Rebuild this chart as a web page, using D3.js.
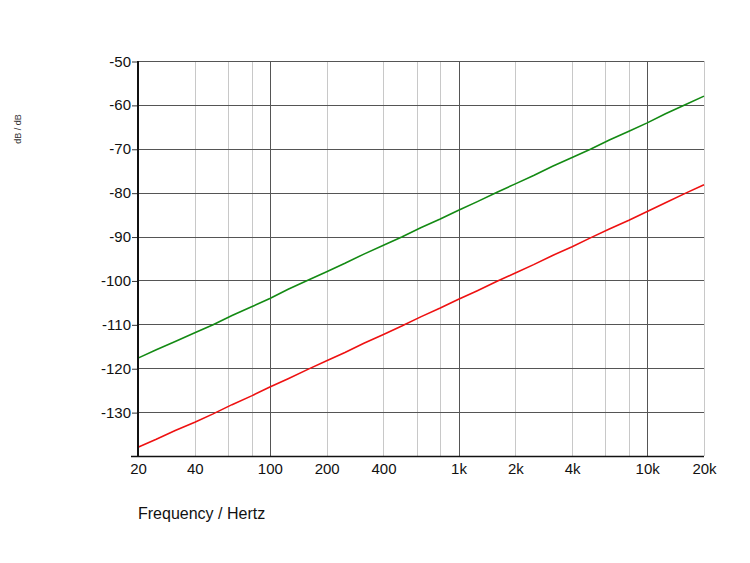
<!DOCTYPE html>
<html>
<head>
<meta charset="utf-8">
<script src="https://cdn.jsdelivr.net/npm/d3@7"></script>
<style>
  html, body { margin: 0; padding: 0; background: #fff; }
  svg { display: block; font-family: Arial, "Liberation Sans", sans-serif; }
</style>
</head>
<body>
<svg id="chart" width="750" height="563"></svg>
<script>
// ---- data ----
const freqs = [20, 25, 31.5, 40, 50, 63, 80, 100, 125, 160, 200, 250, 315, 400, 500, 630, 800,
  1000, 1250, 1600, 2000, 2500, 3150, 4000, 5000, 6300, 8000, 10000, 12500, 16000, 20000];
const greenValues = [-117.7, -115.8, -113.9, -111.9, -110.1, -108.0, -106.0, -104.1, -102.0, -99.9,
  -98.0, -96.1, -94.0, -92.0, -90.1, -88.0, -86.0, -84.0, -82.1, -79.9, -78.0, -76.1, -74.0,
  -72.0, -70.1, -68.0, -66.0, -64.1, -62.0, -59.9, -58.0];
const redValues = [-138.0, -136.2, -134.2, -132.3, -130.4, -128.3, -126.3, -124.3, -122.4, -120.2,
  -118.3, -116.4, -114.3, -112.3, -110.4, -108.3, -106.3, -104.3, -102.4, -100.2, -98.3, -96.4,
  -94.3, -92.3, -90.3, -88.3, -86.3, -84.3, -82.3, -80.1, -78.2];
const xTickValues = [20, 40, 100, 200, 400, 1000, 2000, 4000, 10000, 20000];
const xTickLabels = ["20", "40", "100", "200", "400", "1k", "2k", "4k", "10k", "20k"];
const xMajorGrid = [100, 1000, 10000];
const xMinorGrid = [40, 60, 80, 200, 400, 600, 800, 2000, 4000, 6000, 8000, 20000];
const yTickValues = [-130, -120, -110, -100, -90, -80, -70, -60, -50];
const yDomain = [-140, -50];
const xDomain = [20, 20000];

// ---- layout ----
const svg = d3.select("#chart");
const mLeft = 138, mRight = 704, mTop = 61, mBottom = 456;

const x = d3.scaleLog().domain(xDomain).range([mLeft, mRight]);
const y = d3.scaleLinear().domain(yDomain).range([mBottom, mTop]);

// minor vertical grid
svg.append("g").selectAll("line").data(xMinorGrid).join("line")
  .attr("x1", d => Math.round(x(d)) + 0.5).attr("x2", d => Math.round(x(d)) + 0.5)
  .attr("y1", mTop).attr("y2", mBottom)
  .attr("stroke", "#c8c8c8").attr("stroke-width", 1);

// major vertical grid
svg.append("g").selectAll("line").data(xMajorGrid).join("line")
  .attr("x1", d => Math.round(x(d)) + 0.5).attr("x2", d => Math.round(x(d)) + 0.5)
  .attr("y1", mTop).attr("y2", mBottom)
  .attr("stroke", "#555").attr("stroke-width", 1);

// horizontal grid
svg.append("g").selectAll("line").data(yTickValues).join("line")
  .attr("x1", mLeft).attr("x2", mRight)
  .attr("y1", d => Math.round(y(d)) + 0.5).attr("y2", d => Math.round(y(d)) + 0.5)
  .attr("stroke", "#555").attr("stroke-width", 1);

// series lines
const line = d3.line().x((d, i) => x(freqs[i])).y(d => y(d));
svg.append("path").datum(greenValues).attr("d", line)
  .attr("fill", "none").attr("stroke", "#138a13").attr("stroke-width", 1.6);
svg.append("path").datum(redValues).attr("d", line)
  .attr("fill", "none").attr("stroke", "#ee1111").attr("stroke-width", 1.6);

// y axis
const yAxis = d3.axisLeft(y).tickValues(yTickValues).tickSize(6).tickPadding(1)
  .tickFormat(d => String(d));
const gy = svg.append("g").attr("transform", `translate(${mLeft},0)`).call(yAxis);
gy.select(".domain").remove();
gy.selectAll(".tick line").attr("stroke", "#333").attr("transform", "translate(0,0.5)");
gy.selectAll(".tick text").attr("font-size", 15).attr("fill", "#111")
  .attr("font-family", "Arial, 'Liberation Sans', sans-serif").attr("dy", "0.34em");

// axis lines
svg.append("line").attr("x1", mLeft - 7).attr("x2", mRight).attr("y1", mBottom + 0.5).attr("y2", mBottom + 0.5)
  .attr("stroke", "#111").attr("stroke-width", 1.5);
svg.append("line").attr("x1", mLeft).attr("x2", mLeft).attr("y1", mTop).attr("y2", mBottom + 1)
  .attr("stroke", "#111").attr("stroke-width", 2);

// x axis labels
const xAxis = d3.axisBottom(x).tickValues(xTickValues).tickSize(0).tickPadding(0)
  .tickFormat((d, i) => xTickLabels[i]);
const gx = svg.append("g").attr("transform", `translate(0,${mBottom})`).call(xAxis);
gx.select(".domain").remove();
gx.selectAll(".tick text").attr("font-size", 15).attr("fill", "#111")
  .attr("font-family", "Arial, 'Liberation Sans', sans-serif")
  .attr("y", 18).attr("dy", 0);

// axis titles
svg.append("text").attr("x", 138).attr("y", 519).attr("font-size", 16).attr("fill", "#111")
  .text("Frequency / Hertz");
svg.append("text").attr("transform", "translate(21,129) rotate(-90)")
  .attr("text-anchor", "middle").attr("font-size", 9).attr("fill", "#333")
  .text("dB / dB");
</script>
</body>
</html>
